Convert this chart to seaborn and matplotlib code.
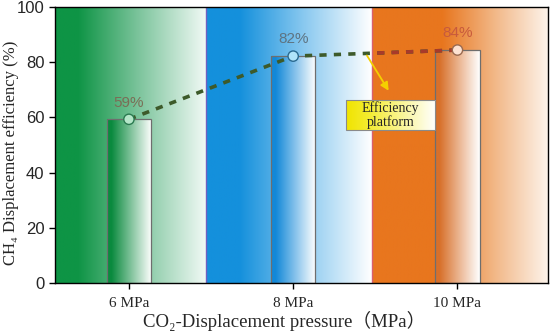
import matplotlib
matplotlib.use("Agg")
import matplotlib.pyplot as plt
from matplotlib.colors import LinearSegmentedColormap
from matplotlib.patches import Rectangle
import seaborn as sns
import pandas as pd
import numpy as np

# ===================== DATOS =====================

pressures = ["6 MPa", "8 MPa", "10 MPa"]
efficiency = [59.3, 82.2, 84.4]
value_labels = ["59%", "82%", "84%"]

# colores por presión
region_colors = ["#0e9445", "#1490dc", "#e8761e"]
region_ends = ["#f2faf6", "#ffffff", "#fdf3ea"]
bar_colors = ["#0a8a3e", "#1288d8", "#d8702a"]
marker_faces = ["#b4e6c8", "#b0e4fa", "#fde2d2"]
marker_edges = ["#2a7a50", "#2a6a90", "#9a6a50"]
label_colors = ["#7a6e56", "#5e7482", "#c85a3c"]

df = pd.DataFrame({"pressure": pressures, "efficiency": efficiency})

# ===================== FIGURA =====================

sns.set_style("ticks")
plt.rcParams["font.family"] = ["Liberation Sans", "DejaVu Sans"]
serif = ["Liberation Serif", "DejaVu Serif", "Noto Sans CJK SC"]

fig = plt.figure(figsize=(5.5, 3.34), dpi=100)
ax = fig.add_axes([0.1, 0.153, 0.896, 0.826])

# Fondos con degradado
edges = [-0.45, 0.47, 1.48, 2.55]
stops = [
    [(0, region_colors[0]), (0.15, region_colors[0]), (0.55, "#7cc49c"), (1, region_ends[0])],
    [(0, region_colors[1]), (0.2, region_colors[1]), (0.6, "#8ccaf0"), (1, region_ends[1])],
    [(0, region_colors[2]), (0.4, region_colors[2]), (0.7, "#f2b888"), (1, region_ends[2])],
]
grad = np.linspace(0, 1, 256).reshape(1, -1)
region_rects = []
for i in range(3):
    cmap = LinearSegmentedColormap.from_list(f"r{i}", stops[i])
    ax.imshow(grad, cmap=cmap, aspect="auto",
              extent=[edges[i], edges[i + 1], 0, 100], zorder=0)
    rect = Rectangle((edges[i], 0), edges[i + 1] - edges[i], 100,
                     facecolor="none", edgecolor="none", zorder=0)
    ax.add_patch(rect)
    region_rects.append(rect)
ax.axvline(edges[1], color="#7060c0", lw=1.0, zorder=1)
ax.axvline(edges[2], color="#d86070", lw=1.0, zorder=1)

# Barras
sns.barplot(data=df, x="pressure", y="efficiency", width=0.27,
            facecolor="none", edgecolor="#6e6e6e", linewidth=0.9, ax=ax, zorder=3)

for i, patch in enumerate(ax.patches[-3:]):
    x0, y0 = patch.get_x(), patch.get_y()
    w, h = patch.get_width(), patch.get_height()
    cmap = LinearSegmentedColormap.from_list(
        f"b{i}", [(0, bar_colors[i]), (0.1, bar_colors[i]), (1, "#ffffff")]
    )
    im = ax.imshow(grad, cmap=cmap, aspect="auto",
                   extent=[x0, x0 + w, y0, y0 + h], zorder=2)
    im.set_clip_path(patch)

# Línea discontinua
sns.lineplot(x=np.arange(3), y=efficiency, color="#3d5a2a", lw=2.6,
             linestyle=(0, (2, 2)), ax=ax, zorder=4)
red_line = sns.lineplot(x=np.arange(3), y=efficiency, color="#a83a2a", lw=2.6,
                        linestyle=(0, (2, 2)), ax=ax, zorder=4).lines[-1]
red_line.set_clip_path(region_rects[2])

# Marcadores
sns.scatterplot(x=np.arange(3), y=efficiency, s=55, c=marker_faces,
                edgecolor=marker_edges, linewidth=1.0, ax=ax, zorder=5)

for i, (v, lab) in enumerate(zip(efficiency, value_labels)):
    ax.text(i, v + 3.5, lab, ha="center", va="bottom",
            color=label_colors[i], fontsize=11, zorder=6)

# Anotación "Efficiency platform"
bx0, bx1, by0, by1 = 1.32, 1.865, 55.4, 66.3
box = Rectangle((bx0, by0), bx1 - bx0, by1 - by0, facecolor="none",
                edgecolor="#8a8a8a", lw=0.8, zorder=7)
ax.add_patch(box)
cmap = LinearSegmentedColormap.from_list(
    "box", [(0, "#f0e400"), (0.25, "#f4ec30"), (1, "#ffffff")])
im = ax.imshow(grad, cmap=cmap, aspect="auto",
               extent=[bx0, bx1, by0, by1], zorder=6)
im.set_clip_path(box)
ax.text((bx0 + bx1) / 2, (by0 + by1) / 2, "Efficiency\nplatform",
        ha="center", va="center", fontsize=10, family=serif,
        linespacing=1.0, zorder=8)
ax.annotate("", xy=(1.59, 68.8), xytext=(1.44, 83.3),
            arrowprops=dict(arrowstyle="-|>", color="#f5d000", lw=1.3,
                            mutation_scale=12), zorder=8)

# Ejes
ax.set_xlim(edges[0], edges[-1])
ax.set_ylim(0, 100)
ax.set_yticks(range(0, 101, 20))
ax.set_xticks(range(3))
ax.set_xticklabels(pressures, family=serif, fontsize=11)
ax.tick_params(axis="y", labelsize=12, length=4, width=1, color="black")
ax.tick_params(axis="x", length=4, width=1, color="black", pad=6)
for s in ax.spines.values():
    s.set_color("black")
    s.set_linewidth(1.0)
    s.set_zorder(9)

ax.set_ylabel("CH\u2084 Displacement efficiency (%)", family=serif, fontsize=12)
ax.yaxis.set_label_coords(-0.074, 0.47)
ax.set_xlabel("CO\u2082-Displacement pressure\uff08MPa\uff09",
              family=serif, fontsize=13.5, labelpad=1, x=0.465)

fig.savefig("out.png", dpi=100)
